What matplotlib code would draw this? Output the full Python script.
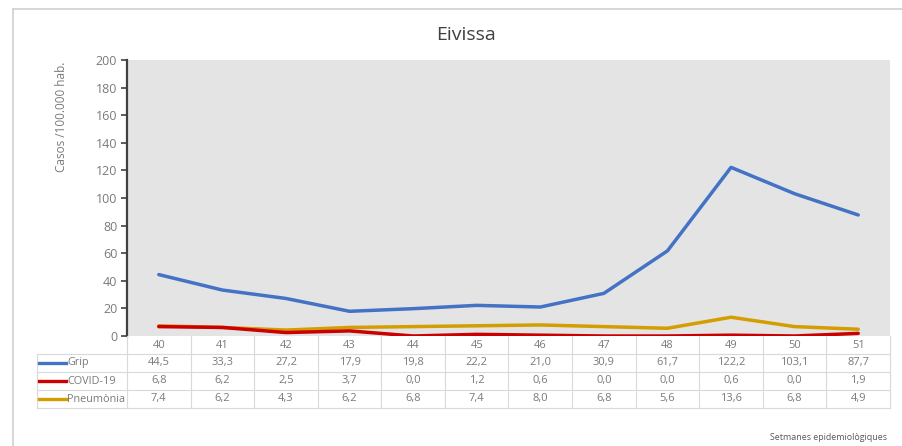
import matplotlib
matplotlib.use("Agg")
import matplotlib.pyplot as plt
from matplotlib.lines import Line2D

plt.rcParams['font.family'] = ['Open Sans', 'DejaVu Sans']

# data
weeks = ['40', '41', '42', '43', '44', '45', '46', '47', '48', '49', '50', '51']
grip = [44.5, 33.3, 27.2, 17.9, 19.8, 22.2, 21.0, 30.9, 61.7, 122.2, 103.1, 87.7]
covid = [6.8, 6.2, 2.5, 3.7, 0.0, 1.2, 0.6, 0.0, 0.0, 0.6, 0.0, 1.9]
pneumonia = [7.4, 6.2, 4.3, 6.2, 6.8, 7.4, 8.0, 6.8, 5.6, 13.6, 6.8, 4.9]
series_names = ['Grip', 'COVID-19', 'Pneumònia']
colors = ['#4472C4', '#CC0000', '#D49D00']

W, H = 903, 446
fig = plt.figure(figsize=(W / 100, H / 100), dpi=100)

# pixel layout helpers
px = lambda x: x / W
py = lambda y: 1 - y / H

txt_c = '#7A7A7A'
left, right, top, bottom = 127, 890, 60, 336
ax = fig.add_axes([px(left), py(bottom), px(right) - px(left), py(top) - py(bottom)])
ax.set_facecolor('#E4E4E4')

xs = list(range(len(weeks)))
z = [3, 5, 4]  # covid over pneumonia
for vals, c, zz in zip([grip, covid, pneumonia], colors, z):
    ax.plot(xs, vals, color=c, lw=2.5, solid_joinstyle='round', solid_capstyle='round', zorder=zz)

ax.set_xlim(-0.5, len(weeks) - 0.5)
ax.set_ylim(0, 200)
ax.set_yticks(range(0, 201, 20))
ax.set_xticks([])
for s in ['top', 'right', 'bottom']:
    ax.spines[s].set_visible(False)
ax.spines['left'].set_color('#404040')
ax.spines['left'].set_linewidth(1.6)
ax.tick_params(axis='y', length=4, width=1.2, color='#404040', labelsize=9,
               labelcolor=txt_c, pad=3)
ax.set_ylabel('Casos /100.000 hab.', fontsize=8.5, color=txt_c)
ax.yaxis.set_label_coords((68 - left) / (right - left), (bottom - 117) / (bottom - top))

fig.text(px(466), py(35), 'Eivissa', ha='center', va='center', fontsize=14, color='#404040')

# data table
grid_c = '#D9D9D9'
col_w = (right - left) / len(weeks)
row_lines = [336, 354, 372, 390, 408]
leg_left = 37
for y in row_lines[1:]:
    fig.add_artist(Line2D([px(leg_left), px(right)], [py(y), py(y)], color=grid_c, lw=0.8))
for j in range(len(weeks) + 1):
    x = left + j * col_w
    fig.add_artist(Line2D([px(x), px(x)], [py(row_lines[0]), py(row_lines[-1])], color=grid_c, lw=0.8))
fig.add_artist(Line2D([px(leg_left), px(leg_left)], [py(row_lines[1]), py(row_lines[-1])], color=grid_c, lw=0.8))

rows = [weeks] + [[f'{v:.1f}'.replace('.', ',') for v in s] for s in [grip, covid, pneumonia]]
for r, row in enumerate(rows):
    yc = (row_lines[r] + row_lines[r + 1]) / 2
    for j, t in enumerate(row):
        fig.text(px(left + (j + 0.5) * col_w), py(yc), t, ha='center', va='center',
                 fontsize=8, color=txt_c)
    if r > 0:
        fig.add_artist(Line2D([px(39), px(66)], [py(yc), py(yc)], color=colors[r - 1], lw=2.4))
        fig.text(px(67), py(yc), series_names[r - 1], ha='left', va='center',
                 fontsize=7.8, color=txt_c)

fig.text(px(887), py(437), 'Setmanes epidemiològiques', ha='right', va='center',
         fontsize=6.4, color='#595959')

# chart frame
fig.add_artist(Line2D([px(13), px(13)], [py(9), 0], color='#D0D0D0', lw=1.2))
fig.add_artist(Line2D([px(13), 1], [py(9), py(9)], color='#D0D0D0', lw=1.2))

fig.savefig('out.png', dpi=100)
